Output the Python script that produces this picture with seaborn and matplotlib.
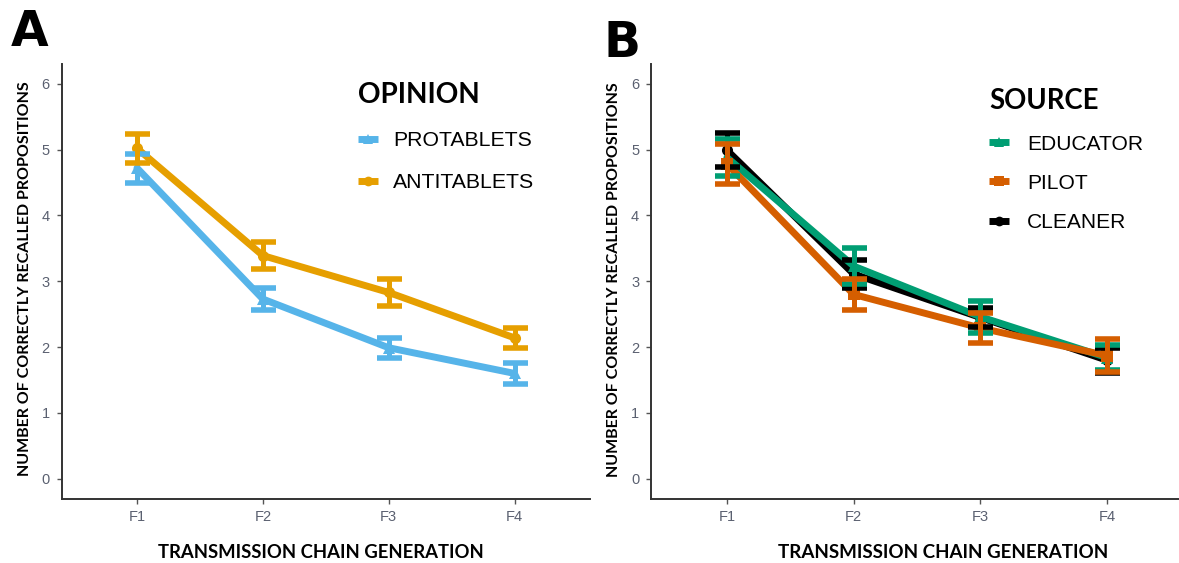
import numpy as np
import pandas as pd
import matplotlib
matplotlib.use("Agg")
import matplotlib.pyplot as plt
import seaborn as sns
from matplotlib.lines import Line2D

# ---------------- data ----------------
generations = ["F1", "F2", "F3", "F4"]

opinion_groups = ["PROTABLETS", "ANTITABLETS"]
protablets_mean = [4.72, 2.73, 1.99, 1.60]
protablets_err = [0.22, 0.17, 0.15, 0.16]
antitablets_mean = [5.02, 3.39, 2.83, 2.14]
antitablets_err = [0.22, 0.20, 0.20, 0.15]

source_groups = ["EDUCATOR", "PILOT", "CLEANER"]
educator_mean = [4.88, 3.23, 2.46, 1.84]
educator_err = [0.28, 0.27, 0.24, 0.19]
pilot_mean = [4.78, 2.80, 2.29, 1.87]
pilot_err = [0.31, 0.24, 0.23, 0.25]
cleaner_mean = [4.99, 3.11, 2.45, 1.80]
cleaner_err = [0.26, 0.22, 0.15, 0.19]

y_ticks = [0, 1, 2, 3, 4, 5, 6]
y_title = "NUMBER OF CORRECTLY RECALLED PROPOSITIONS"
x_title = "TRANSMISSION CHAIN GENERATION"

# ---------------- style ----------------
sns.set_theme(style="white")
plt.rcParams["font.family"] = ["Liberation Sans", "DejaVu Sans"]

W, H = 1179, 563
fig = plt.figure(figsize=(W / 100, H / 100), dpi=100)


def long_df(groups, means, errs):
    rows = []
    for g, m, e in zip(groups, means, errs):
        for i, gen in enumerate(generations):
            rows.append(dict(group=g, gen=i, label=gen, mean=m[i], err=e[i]))
    return pd.DataFrame(rows)


dfA = long_df(opinion_groups, [protablets_mean, antitablets_mean],
              [protablets_err, antitablets_err])
dfB = long_df(source_groups, [educator_mean, pilot_mean, cleaner_mean],
              [educator_err, pilot_err, cleaner_err])

palA = {"PROTABLETS": "#56B4E9", "ANTITABLETS": "#E69F00"}
mkA = {"PROTABLETS": "^", "ANTITABLETS": "o"}
palB = {"EDUCATOR": "#009E73", "PILOT": "#D55E00", "CLEANER": "#000000"}
mkB = {"EDUCATOR": "^", "PILOT": "s", "CLEANER": "o"}


def axes_rect(left, right, top=64, bottom=498.5):
    return [left / W, 1 - bottom / H, (right - left) / W, (bottom - top) / H]


axA = fig.add_axes(axes_rect(61.5, 590))
axB = fig.add_axes(axes_rect(651, 1183))

LW = 5.0


def draw(ax, df, draw_order, pal, mk):
    sns.lineplot(data=df, x="gen", y="mean", hue="group", style="group",
                 hue_order=draw_order, style_order=draw_order, palette=pal,
                 markers=mk, dashes=False, linewidth=LW, markersize=8,
                 markeredgewidth=0, legend=False, ax=ax, sort=False)
    for g in draw_order:
        sub = df[df.group == g]
        ax.errorbar(sub["gen"], sub["mean"], yerr=sub["err"], fmt="none",
                    ecolor=pal[g], elinewidth=3.6, capsize=9.0, capthick=4.0,
                    zorder=3)
    ax.set_xlim(-0.6, 3.6)
    ax.set_ylim(-0.3, 6.3)
    ax.set_xticks(range(len(generations)))
    ax.set_xticklabels(generations)
    ax.set_yticks(y_ticks)
    ax.set_xlabel("")
    ax.set_ylabel("")
    for s in ["top", "right"]:
        ax.spines[s].set_visible(False)
    for s in ["left", "bottom"]:
        ax.spines[s].set_color("#333333")
        ax.spines[s].set_linewidth(1.4)
    ax.tick_params(axis="both", which="major", length=3.5, width=1,
                   color="#555555", labelcolor="#5a6070", labelsize=10.5,
                   left=True, bottom=True, pad=5)


draw(axA, dfA, opinion_groups, palA, mkA)
draw(axB, dfB, ["CLEANER", "EDUCATOR", "PILOT"], palB, mkB)

# ---------------- texts ----------------
fig.canvas.draw()
renderer = fig.canvas.get_renderer()


def fit(txt, target, vertical=False):
    for _ in range(3):
        bb = txt.get_window_extent(renderer=renderer)
        cur = bb.height if vertical else bb.width
        txt.set_fontsize(txt.get_fontsize() * target / cur)


ylab_font = ["Lato", "DejaVu Sans"]
xlab_font = ["Lato", "DejaVu Sans"]
for xc, yc in [(25, 279), (614, 280)]:
    t = fig.text(xc / W, 1 - yc / H, y_title, rotation=90, ha="center",
                 va="center", fontweight="bold", family=ylab_font,
                 fontsize=12, color="black")
    fit(t, 398, vertical=True)
for xc, yc, wd in [(320.5, 553, 325), (943, 553, 330)]:
    t = fig.text(xc / W, 1 - yc / H, x_title, ha="center", va="center",
                 fontweight="bold", family=xlab_font, fontsize=12,
                 color="black")
    fit(t, wd)

fig.text(10.5 / W, 1 - 45.7 / H, "A", ha="left", va="baseline",
         fontweight="bold", family=["DejaVu Sans"], fontsize=35,
         color="black")
fig.text(604 / W, 1 - 57.4 / H, "B", ha="left", va="baseline",
         fontweight="bold", family=["DejaVu Sans"], fontsize=35,
         color="black")


# ---------------- legends ----------------
def text_size_for(s, props, target):
    t = fig.text(0, 0, s, **props)
    fit(t, target)
    fs = t.get_fontsize()
    t.remove()
    return fs


def make_legend(ax, order, pal, mk, title, title_w, label0_w, title_left,
                label_left, centers):
    title_fs = text_size_for(title, dict(family="Lato", fontweight="bold",
                                         fontsize=18), title_w)
    label_fs = text_size_for(order[0], dict(family="Liberation Sans",
                                            fontsize=14), label0_w)
    handles = [Line2D([0], [0], color=pal[g], lw=LW, marker=mk[g],
                      markersize=7, markeredgewidth=0,
                      solid_capstyle="butt") for g in order]
    spacing = 0.9
    anchor = [title_left, centers[0] - 45]
    pad = 0.8
    for _ in range(5):
        leg = ax.legend(handles, order, title=title, loc="upper left",
                        bbox_to_anchor=(anchor[0] / W, 1 - anchor[1] / H),
                        bbox_transform=fig.transFigure, frameon=False,
                        prop={"family": ["Liberation Sans"], "size": label_fs},
                        title_fontproperties={"family": "Lato",
                                              "weight": "bold",
                                              "size": title_fs},
                        handlelength=0.95, handletextpad=pad,
                        labelspacing=spacing, borderpad=0, borderaxespad=0,
                        alignment="left")
        for t in leg.get_texts():
            t.set_color("black")
        leg.get_title().set_color("black")
        fig.canvas.draw()
        bbs = [t.get_window_extent(renderer=renderer) for t in leg.get_texts()]
        cy = [H - (b.y0 + b.y1) / 2 for b in bbs]
        meas = np.mean(np.diff(cy))
        target = np.mean(np.diff(centers))
        em = label_fs * 100 / 72
        spacing += (target - meas) / em
        anchor[1] += centers[0] - cy[0]
        pad += (label_left - bbs[0].x0) / em
        tb = leg.get_title().get_window_extent(renderer=renderer)
        anchor[0] += title_left - tb.x0
    return leg


make_legend(axA, opinion_groups, palA, mkA, "OPINION", 122, 139, 358, 393,
            [140.5, 182.5])
make_legend(axB, source_groups, palB, mkB, "SOURCE", 109, 116, 989, 1027,
            [144, 184, 222.5])

fig.savefig("out.png", dpi=100)
